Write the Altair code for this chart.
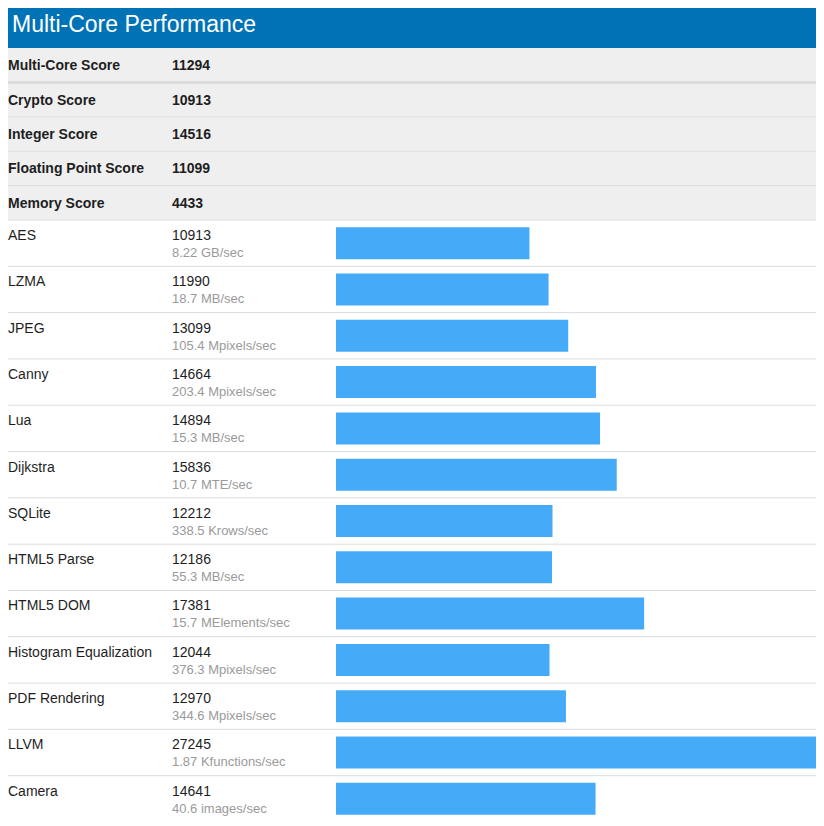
import altair as alt
import pandas as pd

title_text = ["Multi-Core Performance"]

summary_labels = ["Multi-Core Score", "Crypto Score", "Integer Score",
                  "Floating Point Score", "Memory Score"]
summary_scores = [11294, 10913, 14516, 11099, 4433]

bench_names = ["AES", "LZMA", "JPEG", "Canny", "Lua", "Dijkstra", "SQLite",
               "HTML5 Parse", "HTML5 DOM", "Histogram Equalization",
               "PDF Rendering", "LLVM", "Camera"]
bench_scores = [10913, 11990, 13099, 14664, 14894, 15836, 12212, 12186,
                17381, 12044, 12970, 27245, 14641]
bench_rates = ["8.22 GB/sec", "18.7 MB/sec", "105.4 Mpixels/sec",
               "203.4 Mpixels/sec", "15.3 MB/sec", "10.7 MTE/sec",
               "338.5 Krows/sec", "55.3 MB/sec", "15.7 MElements/sec",
               "376.3 Mpixels/sec", "344.6 Mpixels/sec",
               "1.87 Kfunctions/sec", "40.6 images/sec"]

W, H = 808, 810
FONT = "Liberation Sans"
BLUE = "#0073b6"
BAR = "#45abf8"
SUM_BG = "#efefef"
LINE = "#dcdcdf"
TXT = "#1e1e1e"
SUB = "#9a9a9a"

head_df = pd.DataFrame({"title": title_text})
sum_df = pd.DataFrame({"label": summary_labels, "score": summary_scores})
sum_df["thick"] = sum_df["label"] == summary_labels[0]
bench_df = pd.DataFrame({"name": bench_names, "score": bench_scores,
                         "rate": bench_rates})

# ---- header ----
header_bg = alt.Chart(head_df).mark_rect(color=BLUE).encode(
    x=alt.value(0), x2=alt.value(W), y=alt.value(0), y2=alt.value(40))
header_txt = alt.Chart(head_df).mark_text(
    align="left", baseline="alphabetic", font=FONT, fontSize=23,
    color="white").encode(x=alt.value(4), y=alt.value(24), text="title:N")
header = alt.layer(header_bg, header_txt)

# ---- summary table ----
sum_scale = alt.Scale(range=[40, 212], paddingInner=0, paddingOuter=0)
sum_y = alt.Y("label:N", sort=summary_labels, scale=sum_scale, axis=None)
sum_y_bottom = alt.Y("label:N", sort=summary_labels, scale=sum_scale,
                     axis=None, bandPosition=1)

sum_bg = alt.Chart(sum_df).mark_rect(color=SUM_BG).encode(
    x=alt.value(0), x2=alt.value(W), y=sum_y)
sum_rule = alt.Chart(sum_df).mark_rule(color=LINE).encode(
    x=alt.value(0), x2=alt.value(W), y=sum_y_bottom,
    strokeWidth=alt.condition("datum.thick", alt.value(3), alt.value(1)))
sum_name = alt.Chart(sum_df).mark_text(
    align="left", baseline="middle", font=FONT, fontSize=14,
    fontWeight="bold", color=TXT, dy=1).encode(
    x=alt.value(0), y=sum_y, text="label:N")
sum_score = alt.Chart(sum_df).mark_text(
    align="left", baseline="middle", font=FONT, fontSize=14,
    fontWeight="bold", color=TXT, dy=1).encode(
    x=alt.value(164), y=sum_y, text=alt.Text("score:Q", format="d"))
summary = alt.layer(sum_bg, sum_rule, sum_name, sum_score)

# ---- benchmark table ----
b_scale = alt.Scale(range=[212, 814], paddingInner=0, paddingOuter=0)
b_y = alt.Y("name:N", sort=bench_names, scale=b_scale, axis=None)
b_y_top = alt.Y("name:N", sort=bench_names, scale=b_scale, axis=None,
                bandPosition=0)
b_y_bottom = alt.Y("name:N", sort=bench_names, scale=b_scale, axis=None,
                   bandPosition=1)

b_rule = alt.Chart(bench_df).mark_rule(color=LINE, strokeWidth=1).encode(
    x=alt.value(0), x2=alt.value(W), y=b_y_bottom)
b_bar = alt.Chart(bench_df).mark_bar(color=BAR, height=32).encode(
    x=alt.X("score:Q", axis=None,
            scale=alt.Scale(domain=[0, max(bench_scores)], range=[328, 811],
                            nice=False, zero=True)),
    y=b_y)
b_name = alt.Chart(bench_df).mark_text(
    align="left", baseline="alphabetic", font=FONT, fontSize=14,
    color=TXT, dy=20).encode(x=alt.value(0), y=b_y_top, text="name:N")
b_score = alt.Chart(bench_df).mark_text(
    align="left", baseline="alphabetic", font=FONT, fontSize=14,
    color=TXT, dy=20).encode(x=alt.value(164), y=b_y_top,
                             text=alt.Text("score:Q", format="d"))
b_rate = alt.Chart(bench_df).mark_text(
    align="left", baseline="alphabetic", font=FONT, fontSize=13,
    color=SUB, dy=37).encode(x=alt.value(164), y=b_y_top, text="rate:N")
bench = alt.layer(b_rule, b_bar, b_name, b_score, b_rate)

chart = alt.layer(header, summary, bench).resolve_scale(
    y="independent"
).properties(
    width=W, height=H, padding=0,
    autosize=alt.AutoSizeParams(type="none"),
    background="white",
).configure_view(strokeWidth=0)

chart.save("out.html", embed_options={"renderer": "svg", "actions": False})
